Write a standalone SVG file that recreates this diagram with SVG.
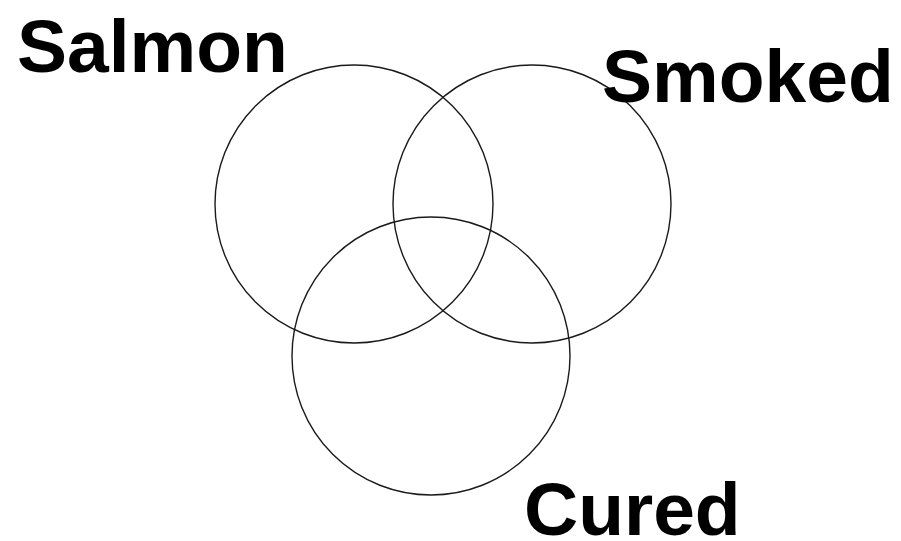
<svg xmlns="http://www.w3.org/2000/svg" width="901" height="541" viewBox="0 0 901 541">
<style>
.c{fill:none;stroke:#1a1a1a;stroke-width:1.4}
.t{font-family:"Liberation Sans",Arial,sans-serif;font-weight:bold;font-size:75px;fill:#000}
</style>
<rect width="901" height="541" fill="#fff"/>
<g id="salmon"><circle class="c" cx="354" cy="204" r="139"/><text class="t" x="17" y="72">Salmon</text></g>
<g id="smoked"><circle class="c" cx="532" cy="204" r="139"/><text class="t" x="602" y="102">Smoked</text></g>
<g id="cured"><circle class="c" cx="431" cy="356" r="139"/><text class="t" x="524" y="535">Cured</text></g>
<g id="connectors"/>
</svg>
